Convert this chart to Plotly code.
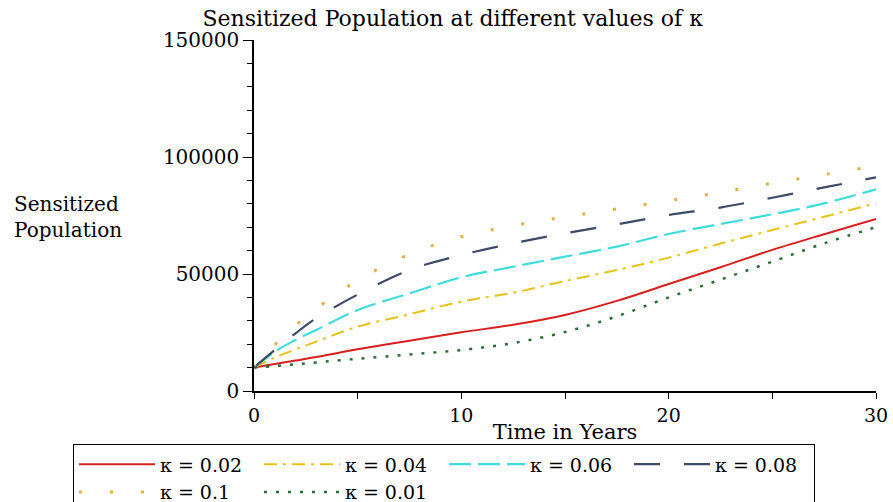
import plotly.graph_objects as go

t = [0, 1, 2, 3, 5, 7.5, 10, 12.5, 15, 17.5, 20, 22.5, 25, 27.5, 30]

s_k002 = [10000, 11500, 13000, 14500, 17800, 21500, 25100, 28300, 32500, 38500, 45700, 52900, 60300, 67000, 73500]
s_k004 = [10000, 14300, 17800, 21100, 27500, 32800, 38200, 42000, 47000, 51700, 57000, 63000, 68800, 74500, 80200]
s_k006 = [10000, 16800, 21800, 26100, 34600, 41700, 48600, 53100, 57400, 61700, 67100, 71400, 75500, 80200, 86200]
s_k008 = [10000, 17500, 24600, 31100, 41200, 51700, 58100, 63100, 67400, 71200, 75200, 78400, 82600, 87000, 91300]
s_k010 = [10000, 19700, 27900, 35200, 47300, 58500, 65900, 70600, 74400, 77800, 81300, 84900, 88800, 92500, 96200]
s_k001 = [10000, 10700, 11400, 12200, 13800, 15600, 17500, 20500, 25200, 31900, 40000, 47600, 55300, 63100, 70000]

names = ["κ = 0.02", "κ = 0.04", "κ = 0.06", "κ = 0.08", "κ = 0.1", "κ = 0.01"]
series = [s_k002, s_k004, s_k006, s_k008, s_k010, s_k001]
colors = ["#d81e1e", "#e6c21a", "#3fdcdc", "#3c4a68", "#e2ae48", "#2a6e36"]
dashes = ["solid", "13px,6px,3px,6px", "22px,7px", "26px,24px", "3px,28px", "3px,9px"]
widths = [2, 2, 2.2, 2.2, 3, 2.5]

fig = go.Figure()
for n, s, c, d, w in zip(names, series, colors, dashes, widths):
    fig.add_trace(go.Scatter(x=t, y=s, mode="lines", name=n,
                             line=dict(color=c, dash=d, width=w, shape="spline")))

font_family = "DejaVu Serif"
fig.update_layout(
    width=893, height=502,
    margin=dict(l=254, r=17, t=40, b=111, autoexpand=False),
    paper_bgcolor="white", plot_bgcolor="white",
    font=dict(family=font_family, size=19, color="black"),
    title=dict(text="Sensitized Population at different values of κ",
               x=0.507, xanchor="center", y=0.964, yanchor="middle",
               font=dict(family=font_family, size=22, color="black")),
    showlegend=True,
    legend=dict(orientation="h", x=-0.291, xanchor="left", y=-0.152, yanchor="top",
                bordercolor="black", borderwidth=1, bgcolor="white",
                itemwidth=76, entrywidth=94, entrywidthmode="pixels",
                font=dict(family=font_family, size=19, color="black")),
)
fig.update_xaxes(range=[0, 30], tickvals=[0, 10, 20, 30], tickformat="d", ticks="outside", ticklen=6,
                 tickcolor="black", showline=True, linecolor="black", linewidth=1.5,
                 showgrid=False, zeroline=False,
                 minor=dict(dtick=5, ticks="outside", ticklen=6, tickcolor="black"),
                 tickfont=dict(family=font_family, size=19),
                 title=dict(text="Time in Years", standoff=0,
                            font=dict(family=font_family, size=21)))
fig.update_yaxes(range=[0, 150000], tickvals=[0, 50000, 100000, 150000], tickformat="d",
                 ticks="outside", ticklen=9, tickcolor="black", showline=True,
                 linecolor="black", linewidth=1.5, showgrid=False, zeroline=False,
                 minor=dict(dtick=10000, ticks="outside", ticklen=5, tickcolor="black"),
                 tickfont=dict(family=font_family, size=20))
fig.add_annotation(text="Sensitized<br>Population", xref="paper", yref="paper",
                   x=-0.389, y=0.497, xanchor="left", yanchor="middle", align="left",
                   showarrow=False, font=dict(family=font_family, size=20, color="black"))

fig.write_html("out.html", config={"displayModeBar": False},
               post_script="document.body.style.margin='0px';")
